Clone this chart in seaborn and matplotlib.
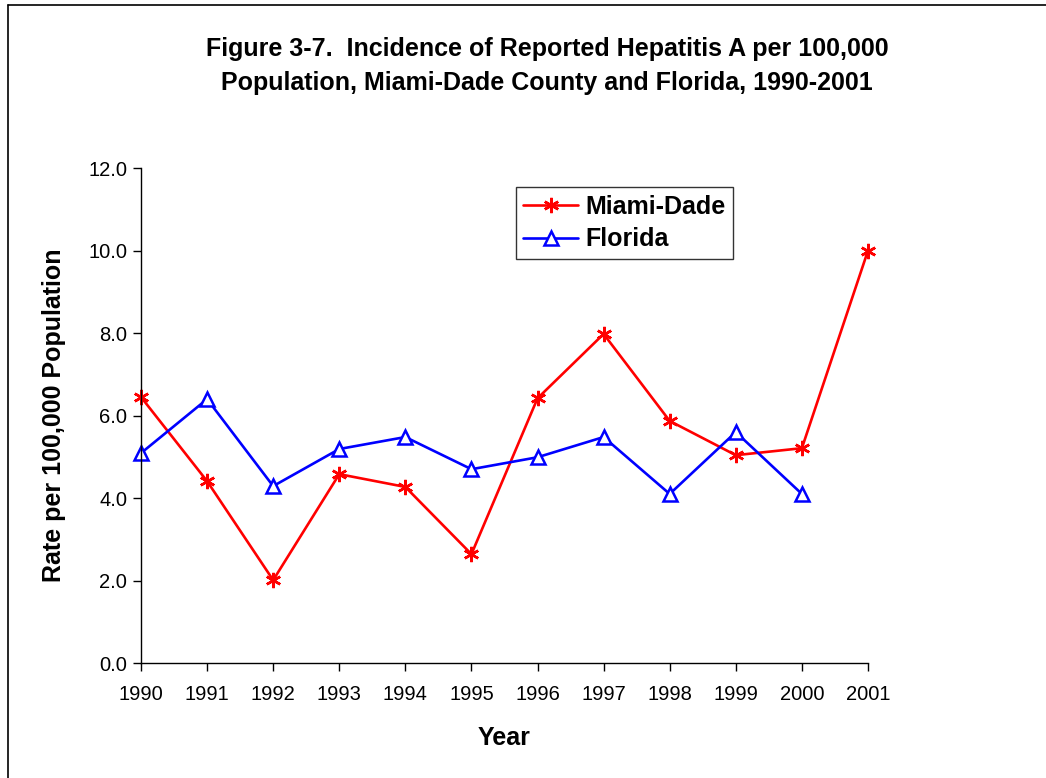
import numpy as np
import pandas as pd
import seaborn as sns
import matplotlib.pyplot as plt
from matplotlib.lines import Line2D

years = list(range(1990, 2002))
miami_dade = [6.45, 4.41, 2.01, 4.58, 4.27, 2.64, 6.42, 7.98, 5.87, 5.04, 5.21, 10.0]
florida = [5.09, 6.40, 4.29, 5.19, 5.48, 4.70, 4.99, 5.48, 4.10, 5.60, 4.10, np.nan]

sns.set_style('white')
plt.rcParams['font.family'] = ['Liberation Sans', 'DejaVu Sans']
plt.rcParams['text.color'] = 'black'
plt.rcParams['axes.labelcolor'] = 'black'
plt.rcParams['xtick.color'] = 'black'
plt.rcParams['ytick.color'] = 'black'

fig = plt.figure(figsize=(10.46, 7.78), dpi=100)
ax = fig.add_axes([0.1348, 0.1478, 0.695, 0.636])

sns.lineplot(x=years, y=miami_dade, ax=ax, color='#ff0000', linewidth=1.9,
             marker=(6, 2, 0), markersize=11, markeredgewidth=1.8,
             markeredgecolor='#ff0000', clip_on=False)
sns.lineplot(x=years, y=florida, ax=ax, color='#0000ff', linewidth=1.9,
             marker='^', markersize=10, markerfacecolor='white',
             markeredgewidth=1.8, markeredgecolor='#0000ff', clip_on=False)

ax.set_xlim(1990, 2001)
ax.set_ylim(0, 12)
ax.set_xticks(years)
ax.set_yticks(np.arange(0, 12.1, 2))
ax.set_yticklabels([f'{v:.1f}' for v in np.arange(0, 12.1, 2)])
ax.tick_params(axis='both', labelsize=14.5, direction='out', length=6, width=1,
               color='black', bottom=True, left=True)
ax.tick_params(axis='x', pad=10)
ax.tick_params(axis='y', pad=4)

for s in ['top', 'right']:
    ax.spines[s].set_visible(False)
for s in ['left', 'bottom']:
    ax.spines[s].set_color('black')
    ax.spines[s].set_linewidth(1)

ax.set_xlabel('Year', fontsize=18, fontweight='bold', labelpad=16)
ax.set_ylabel('Rate per 100,000 Population', fontsize=18, fontweight='bold', labelpad=16)

fig.text(0.523, 0.915, 'Figure 3-7.  Incidence of Reported Hepatitis A per 100,000\n'
         'Population, Miami-Dade County and Florida, 1990-2001',
         ha='center', va='center', fontsize=18, fontweight='bold', linespacing=1.5)

handles = [
    Line2D([], [], color='#ff0000', linewidth=1.9, marker=(6, 2, 0), markersize=11,
           markeredgewidth=1.8),
    Line2D([], [], color='#0000ff', linewidth=1.9, marker='^', markersize=10,
           markerfacecolor='white', markeredgewidth=1.8),
]
leg = ax.legend(handles, ['Miami-Dade', 'Florida'], loc='upper left',
                bbox_to_anchor=(0.498, 0.987), frameon=True, fancybox=False,
                prop={'size': 18, 'weight': 'bold'}, handlelength=2.2,
                handletextpad=0.3, borderpad=0.3, labelspacing=0.35)
leg.get_frame().set_edgecolor('black')
leg.get_frame().set_linewidth(1)

fig.add_artist(Line2D([0.008, 0.008], [0, 0.994], color='black', linewidth=1.2,
                      transform=fig.transFigure))
fig.add_artist(Line2D([0.008, 1], [0.994, 0.994], color='black', linewidth=1.2,
                      transform=fig.transFigure))

fig.savefig('out.png', dpi=100)
